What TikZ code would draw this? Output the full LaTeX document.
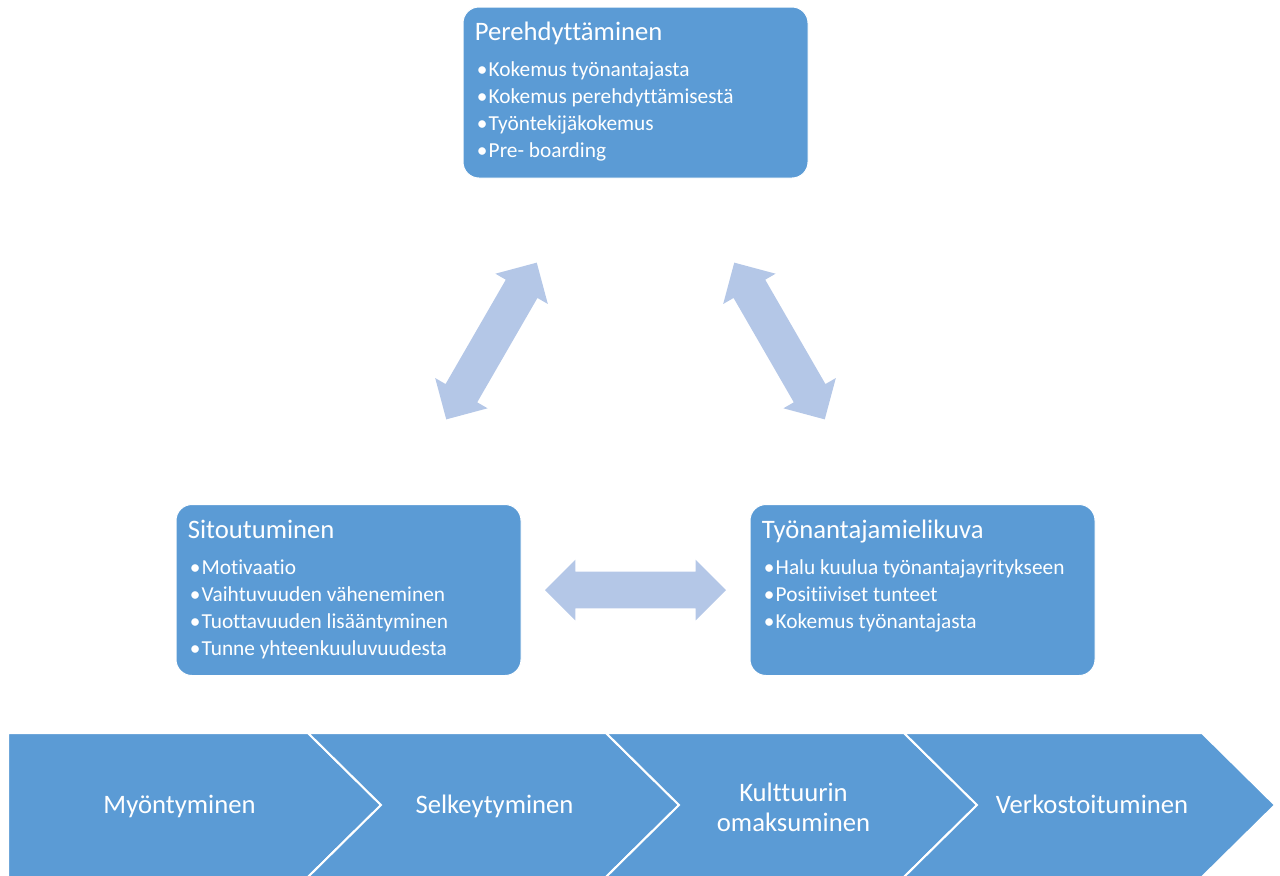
\documentclass[tikz,border=0pt]{standalone}
\usepackage{fontspec}
\setmainfont{Carlito}[Ligatures=NoCommon]
\usetikzlibrary{shapes.arrows}
\definecolor{boxblue}{HTML}{5B9BD5}
\definecolor{arrowblue}{HTML}{B4C7E7}

\begin{document}
\begin{tikzpicture}[x=0.75pt,y=-0.75pt,
  box/.style={fill=boxblue,draw=white,line width=0.75pt,rounded corners=12pt,
    minimum width=258.75pt,minimum height=128.25pt,inner sep=0pt},
  boxtitle/.style={anchor=base west,text=white,inner sep=0pt,
    font=\fontsize{20}{24}\selectfont},
  item/.style={anchor=base west,text=white,inner sep=0pt,
    font=\fontsize{16}{19}\selectfont},
  dblarrow/.style={double arrow,fill=arrowblue,inner xsep=0pt,inner ysep=13.5pt,
    minimum height=135.75pt,double arrow head extend=9pt},
  chev/.style={fill=boxblue,draw=white,line width=1.5pt,line join=miter},
  chevtext/.style={text=white,align=center,
    font=\fontsize{20}{22.5}\selectfont}]
  \useasboundingbox (0,0) rectangle (1280,875);

  % the three boxes
  \node[box] (pereh) at (635.5,92.5) {};
  \node[boxtitle] (perehT) at ([shift={(12,34)}]pereh.north west) {Perehdyttäminen};
  \foreach \t [count=\i] in {Kokemus työnantajasta,Kokemus perehdyttämisestä,
      Työntekijäkokemus,Pre- boarding}
    \node[item] (perehI\i) at ([shift={(14,{43+27*\i})}]pereh.north west) {•\kern1pt\t};

  \node[box] (sitou) at (348.5,590) {};
  \node[boxtitle] (sitouT) at ([shift={(12,34)}]sitou.north west) {Sitoutuminen};
  \foreach \t [count=\i] in {Motivaatio,Vaihtuvuuden väheneminen,
      Tuottavuuden lisääntyminen,Tunne yhteenkuuluvuudesta}
    \node[item] (sitouI\i) at ([shift={(14,{43+27*\i})}]sitou.north west) {•\kern1pt\t};

  \node[box] (mieli) at (922.5,590) {};
  \node[boxtitle] (mieliT) at ([shift={(12,34)}]mieli.north west) {Työnantajamielikuva};
  \foreach \t [count=\i] in {Halu kuulua työnantajayritykseen,Positiiviset tunteet,
      Kokemus työnantajasta}
    \node[item] (mieliI\i) at ([shift={(14,{43+27*\i})}]mieli.north west) {•\kern1pt\t};

  % arrows between them
  \node[dblarrow,rotate=60] (arrL) at (491.5,341) {};
  \node[dblarrow,rotate=-60] (arrR) at (779.5,341) {};
  \node[dblarrow] (arrB) at (635.5,590) {};

  % process chevrons
  \draw[chev] (8,733) -- (308,733) -- (381,805) -- (308,877) -- (8,877) -- cycle;
  \foreach \x in {308,606,904}
    \draw[chev] (\x,733) -- ++(298,0) -- ++(73,72) -- ++(-73,72) -- ++(-298,0)
      -- ++(73,-72) -- cycle;
  \node[chevtext] (myont) at (179.5,806) {Myöntyminen};
  \node[chevtext] (selkey) at (494.5,806) {Selkeytyminen};
  \node[chevtext] (kultt) at (793.5,807) {Kulttuurin\\omaksuminen};
  \node[chevtext] (verkos) at (1092,804) {Verkostoituminen};
\end{tikzpicture}
\end{document}
